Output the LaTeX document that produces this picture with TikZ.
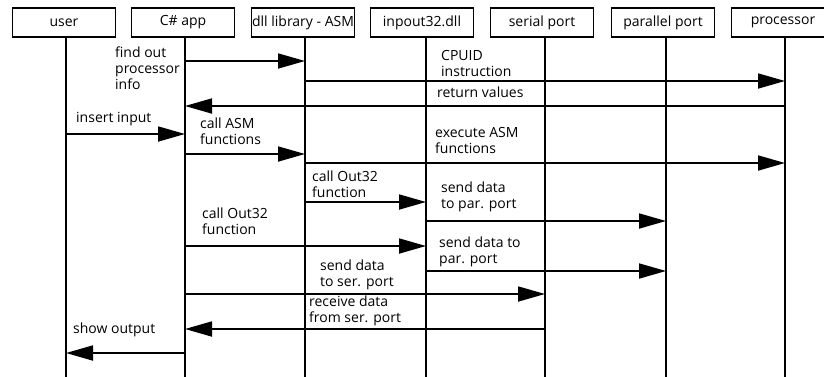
\documentclass[tikz,border=0pt]{standalone}
\usepackage{fontspec}
\setmainfont{Open Sans}
\usetikzlibrary{arrows.meta}
\begin{document}
\begin{tikzpicture}[x=1pt,y=-1pt,
  head/.style={draw, line width=1.8pt, minimum width=103pt, minimum height=29pt,
               inner sep=0pt, font=\fontsize{14}{16}\selectfont},
  life/.style={line width=1.8pt},
  msg/.style={line width=1.8pt, -{Triangle[length=27pt,width=15pt]}},
  lbl/.style={anchor=west, inner sep=0pt, align=left,
              font=\fontsize{14}{16}\selectfont}]
\useasboundingbox[fill=white] (0,0) rectangle (824,376);

% participants
\node[head] (user)  at (64,22.5)  {user};
\node[head] (app)   at (183,22.5) {C\# app};
\node[head] (dll)   at (303,22.5) {dll library - ASM};
\node[head] (inp)   at (422,22.5) {inpout32.dll};
\node[head] (ser)   at (542,22.5) {serial port};
\node[head] (par)   at (663,22.5) {parallel port};
\node[head] (proc)  at (783,22.5) {processor};

% lifelines
\foreach \p/\x in {user/66, app/185, dll/305, inp/426, ser/545, par/666, proc/785}{
  \coordinate (\p top) at (\x,37);
  \coordinate (\p end) at (\x,380);
  \draw[life] (\p top) -- (\p end);
}

% messages
\newcommand{\sendmsg}[3]{\draw[msg] (#1top |- 0,#3) -- (#2top |- 0,#3);}
\sendmsg{app}{dll}{61}
\sendmsg{dll}{proc}{81}
\sendmsg{proc}{app}{106}
\sendmsg{user}{app}{134}
\sendmsg{app}{dll}{154}
\sendmsg{dll}{proc}{163}
\sendmsg{dll}{inp}{202}
\sendmsg{inp}{par}{221}
\sendmsg{app}{inp}{246}
\sendmsg{inp}{par}{271}
\sendmsg{app}{ser}{294}
\sendmsg{ser}{app}{329}
\sendmsg{app}{user}{353}

% message labels
\node[lbl] (l1)  at (115,68)  {find out\\processor\\info};
\node[lbl] (l2)  at (441,63)  {CPUID\\instruction};
\node[lbl] (l3)  at (437,92)  {return values};
\node[lbl] (l4)  at (76,119)  {insert input};
\node[lbl] (l5)  at (200,131) {call ASM\\functions};
\node[lbl] (l6)  at (435,140) {execute ASM\\functions};
\node[lbl] (l7)  at (312,184) {call Out32\\function};
\node[lbl] (l8)  at (441,197) {send data\\to par. port};
\node[lbl] (l9)  at (202,221) {call Out32\\function};
\node[lbl] (l10) at (439,252) {send data to\\par. port};
\node[lbl] (l11) at (320,275) {send data\\to ser. port};
\node[lbl] (l12) at (309,311) {receive data\\from ser. port};
\node[lbl] (l13) at (73,330)  {show output};
\end{tikzpicture}
\end{document}
